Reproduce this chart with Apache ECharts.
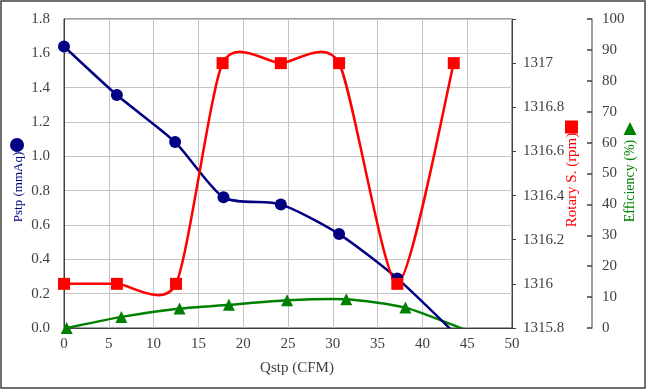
<!DOCTYPE html>
<html>
<head>
<meta charset="utf-8">
<script src="https://cdn.jsdelivr.net/npm/echarts@6/dist/echarts.min.js"></script>
<style>html,body{margin:0;padding:0;background:#fff}#c{width:647px;height:390px}</style>
</head>
<body>
<div id="c"></div>
<script>
// Data
const pstpQ = [0, 5.9, 12.4, 17.8, 24.2, 30.7, 37.2, 44.0];
const pstpV = [1.64, 1.357, 1.083, 0.761, 0.72, 0.547, 0.289, -0.05];
const rotQ = [0, 5.9, 12.5, 17.7, 24.2, 30.7, 37.2, 43.5];
const rotV = [1316, 1316, 1316, 1317, 1317, 1317, 1316, 1317];
const effQ = [0.3, 6.4, 12.9, 18.4, 24.9, 31.5, 38.1, 44.6];
const effV = [0, 3.6, 6.3, 7.5, 9.0, 9.3, 6.6, -0.4];
const xTicks = {min: 0, max: 50, interval: 5};

const FONT = '"Liberation Serif","DejaVu Serif",serif';
const TXT = '#404040';
const pairs = (xs, ys) => xs.map((x, i) => [x, ys[i]]);

// Excel-like smoothed curve (Catmull-Rom style bezier) through pixel points from the axes
function curveRender(xs, ys, color, k) {
  return function (params, api) {
    if (params.dataIndex !== 0) return null;
    const p = xs.map((x, i) => api.coord([x, ys[i]]));
    let d = 'M' + p[0][0] + ',' + p[0][1];
    for (let i = 0; i < p.length - 1; i++) {
      const p0 = p[i - 1] || p[i], p1 = p[i], p2 = p[i + 1], p3 = p[i + 2] || p[i + 1];
      const c1x = p1[0] + k * (p2[0] - p0[0]), c1y = p1[1] + k * (p2[1] - p0[1]);
      const c2x = p2[0] - k * (p3[0] - p1[0]), c2y = p2[1] - k * (p3[1] - p1[1]);
      d += ' C' + c1x + ',' + c1y + ' ' + c2x + ',' + c2y + ' ' + p2[0] + ',' + p2[1];
    }
    return {type: 'path', shape: {pathData: d}, style: {fill: 'none', stroke: color, lineWidth: 2.5}};
  };
}

function seriesPair(xs, ys, axis, color, symbol, k) {
  return [
    {type: 'custom', yAxisIndex: axis, clip: true, data: pairs(xs, ys),
     renderItem: curveRender(xs, ys, color, k), silent: true},
    {type: 'scatter', yAxisIndex: axis, clip: true, data: pairs(xs, ys),
     symbol: symbol, symbolSize: 12, itemStyle: {color: color, opacity: 1}}
  ];
}

const chart = echarts.init(document.getElementById('c'));
chart.setOption({
  animation: false,
  backgroundColor: '#fff',
  textStyle: {fontFamily: FONT},
  grid: {left: 64, right: 135, top: 19, bottom: 62, show: true, borderColor: '#404040', borderWidth: 1},
  xAxis: {
    type: 'value', min: xTicks.min, max: xTicks.max, interval: xTicks.interval,
    axisLine: {show: true, lineStyle: {color: '#404040', width: 1}},
    axisTick: {show: false},
    axisLabel: {color: TXT, fontFamily: FONT, fontSize: 15, margin: 9},
    splitLine: {show: true, lineStyle: {color: '#c4c4c4', width: 1}}
  },
  yAxis: [
    {
      type: 'value', min: 0, max: 1.8, interval: 0.2, position: 'left',
      axisLine: {show: true, lineStyle: {color: '#404040', width: 1}},
      axisTick: {show: false},
      axisLabel: {color: TXT, fontFamily: FONT, fontSize: 15, margin: 14, formatter: v => v.toFixed(1)},
      splitLine: {show: true, lineStyle: {color: '#c4c4c4', width: 1}}
    },
    {
      type: 'value', min: 1315.8, max: 1317.2, interval: 0.2, position: 'right',
      axisLine: {show: true, lineStyle: {color: '#404040', width: 1}},
      axisTick: {show: true, inside: false, length: 4, lineStyle: {color: '#404040'}},
      axisLabel: {color: TXT, fontFamily: FONT, fontSize: 15, margin: 11,
        formatter: v => (v > 1317.1 ? '' : String(parseFloat(v.toFixed(1))))},
      splitLine: {show: false}
    },
    {
      type: 'value', min: 0, max: 100, interval: 10, position: 'right', offset: 80,
      axisLine: {show: true, lineStyle: {color: '#7f7f7f', width: 1.5}},
      axisTick: {show: true, inside: true, length: 5, lineStyle: {color: '#404040', width: 1.5}},
      axisLabel: {color: TXT, fontFamily: FONT, fontSize: 15, margin: 10},
      splitLine: {show: false}
    }
  ],
  series: [].concat(
    seriesPair(effQ, effV, 2, '#008000', 'triangle', 0.115),
    seriesPair(pstpQ, pstpV, 0, '#000080', 'circle', 0.115),
    seriesPair(rotQ, rotV, 1, '#ff0000', 'rect', 0.115)
  ),
  graphic: [
    {type: 'rect', shape: {x: 1, y: 1, width: 644, height: 387}, style: {fill: 'none', stroke: '#404040', lineWidth: 1.5}, silent: true},
    {type: 'text', x: 297, y: 368, style: {text: 'Qstp (CFM)', font: '15px ' + FONT, fill: TXT, textAlign: 'center', textVerticalAlign: 'middle'}},
    {type: 'text', x: 19, y: 187, rotation: Math.PI / 2, style: {text: 'Pstp (mmAq)', font: '13px ' + FONT, fill: '#000080', textAlign: 'center', textVerticalAlign: 'middle'}},
    {type: 'circle', shape: {cx: 17, cy: 145, r: 7}, style: {fill: '#000080'}},
    {type: 'text', x: 572, y: 180, rotation: Math.PI / 2, style: {text: 'Rotary S. (rpm)', font: '15px ' + FONT, fill: '#ff0000', textAlign: 'center', textVerticalAlign: 'middle'}},
    {type: 'rect', shape: {x: 565, y: 120.5, width: 13, height: 13}, style: {fill: '#ff0000'}},
    {type: 'text', x: 630, y: 181, rotation: Math.PI / 2, style: {text: 'Efficiency (%)', font: '14px ' + FONT, fill: '#008000', textAlign: 'center', textVerticalAlign: 'middle'}},
    {type: 'polygon', shape: {points: [[630, 122], [636.5, 135], [623.5, 135]]}, style: {fill: '#008000'}}
  ]
});
</script>
</body>
</html>
